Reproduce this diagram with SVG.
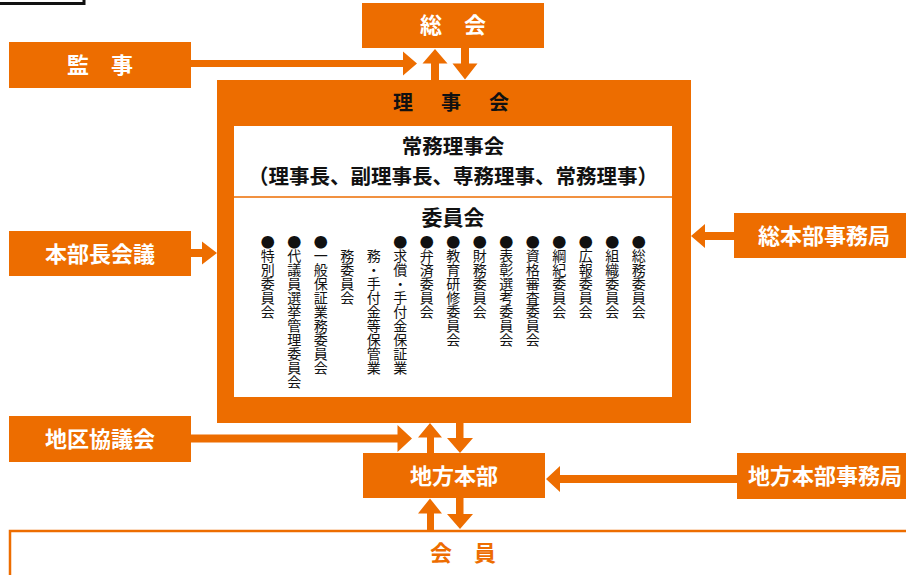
<svg xmlns="http://www.w3.org/2000/svg" width="906" height="575" viewBox="0 0 906 575">
<style>
.box{fill:#ED6D00}
.lbl{font-family:"Noto Sans CJK JP","Noto Sans",sans-serif;font-weight:bold;fill:#fff;font-size:22px;text-anchor:middle}
.blk{font-family:"Noto Sans CJK JP","Noto Sans",sans-serif;font-weight:bold;fill:#111;text-anchor:middle}
.vt{font-family:"Noto Sans CJK JP","Noto Sans",sans-serif;font-size:14px;fill:#111;writing-mode:vertical-rl;text-orientation:upright}
.arr{fill:#ED6D00}
</style>
<rect width="906" height="575" fill="#fff"/>
<path d="M0,3.5H84V0" fill="none" stroke="#111" stroke-width="3"/>

<g id="kanji">
<rect class="box" x="9" y="42" width="182" height="46"/>
<text class="lbl" x="100" y="73">監　事</text>
</g>
<g id="soukai">
<rect class="box" x="362" y="3" width="182" height="45"/>
<text class="lbl" x="453" y="33">総　会</text>
</g>
<g id="rijikai">
<rect class="box" x="217" y="80" width="474" height="343"/>
<rect x="234" y="126" width="438" height="271" fill="#fff"/>
<text class="blk" x="453" y="110" font-size="20" letter-spacing="4">理　事　会</text>
<text class="blk" x="453" y="154" font-size="20.5">常務理事会</text>
<text class="blk" x="453" y="184" font-size="20.5">（理事長、副理事長、専務理事、常務理事）</text>
<line x1="234" y1="197" x2="672" y2="197" stroke="#ED6D00" stroke-width="1.5"/>
<text class="blk" x="453" y="225" font-size="21">委員会</text>
<g id="committees">
<text class="vt" x="638.7" y="235">●総務委員会</text>
<text class="vt" x="612.2" y="235">●組織委員会</text>
<text class="vt" x="585.7" y="235">●広報委員会</text>
<text class="vt" x="559.2" y="235">●綱紀委員会</text>
<text class="vt" x="532.7" y="235">●資格審査委員会</text>
<text class="vt" x="506.2" y="235">●表彰選考委員会</text>
<text class="vt" x="479.7" y="235">●財務委員会</text>
<text class="vt" x="453.2" y="235">●教育研修委員会</text>
<text class="vt" x="426.7" y="235">●弁済委員会</text>
<text class="vt" x="400.2" y="235">●求償・手付金保証業</text>
<text class="vt" x="373.7" y="249">務・手付金等保管業</text>
<text class="vt" x="347.2" y="249">務委員会</text>
<text class="vt" x="320.7" y="235">●一般保証業務委員会</text>
<text class="vt" x="294.2" y="235">●代議員選挙管理委員会</text>
<text class="vt" x="267.7" y="235">●特別委員会</text>
</g>
</g>
<g id="honbuchokaigi">
<rect class="box" x="9" y="231" width="182" height="45"/>
<text class="lbl" x="100" y="262">本部長会議</text>
</g>
<g id="souhonbu-jimukyoku">
<rect class="box" x="734" y="213" width="172" height="45"/>
<text class="lbl" x="824" y="244">総本部事務局</text>
</g>
<g id="chikukyogikai">
<rect class="box" x="9" y="416" width="182" height="46"/>
<text class="lbl" x="100" y="447">地区協議会</text>
</g>
<g id="chihohonbu">
<rect class="box" x="363" y="453" width="182" height="45"/>
<text class="lbl" x="454" y="484">地方本部</text>
</g>
<g id="chihohonbu-jimukyoku">
<rect class="box" x="737" y="453" width="169" height="46"/>
<text class="lbl" x="825" y="484">地方本部事務局</text>
</g>
<g id="kaiin">
<rect x="10" y="531" width="910" height="60" fill="none" stroke="#ED6D00" stroke-width="2.5"/>
<text class="lbl" x="463" y="561" style="fill:#ED6D00">会　員</text>
</g>

<g id="connectors">
<path class="arr" d="M191,60H403V51.5L417,63.5L403,75.5V67H191Z"/>
<path class="arr" d="M431,80V63.5H422.5L435,49L447.5,63.5H439V80Z"/>
<path class="arr" d="M461,48V63.5H452.5L465,79.5L477.5,63.5H469V48Z"/>
<path class="arr" d="M191,249H202V241.5L217,253L202,264.5V257H191Z"/>
<path class="arr" d="M734,232H705V224L691,236L705,248V240H734Z"/>
<path class="arr" d="M191,434.5H397.5V425L412,438.5L397.5,452V442.5H191Z"/>
<path class="arr" d="M427,453V437.5H418L430,423L442,437.5H434V453Z"/>
<path class="arr" d="M456,423V438H447L460,453L473,438H463.5V423Z"/>
<path class="arr" d="M427,530V513.5H418L430,498.5L442,513.5H434V530Z"/>
<path class="arr" d="M456,498V514H447L460,529L473,514H463.5V498Z"/>
<path class="arr" d="M737,475H560V466L546,479L560,492V483H737Z"/>
</g>
</svg>
